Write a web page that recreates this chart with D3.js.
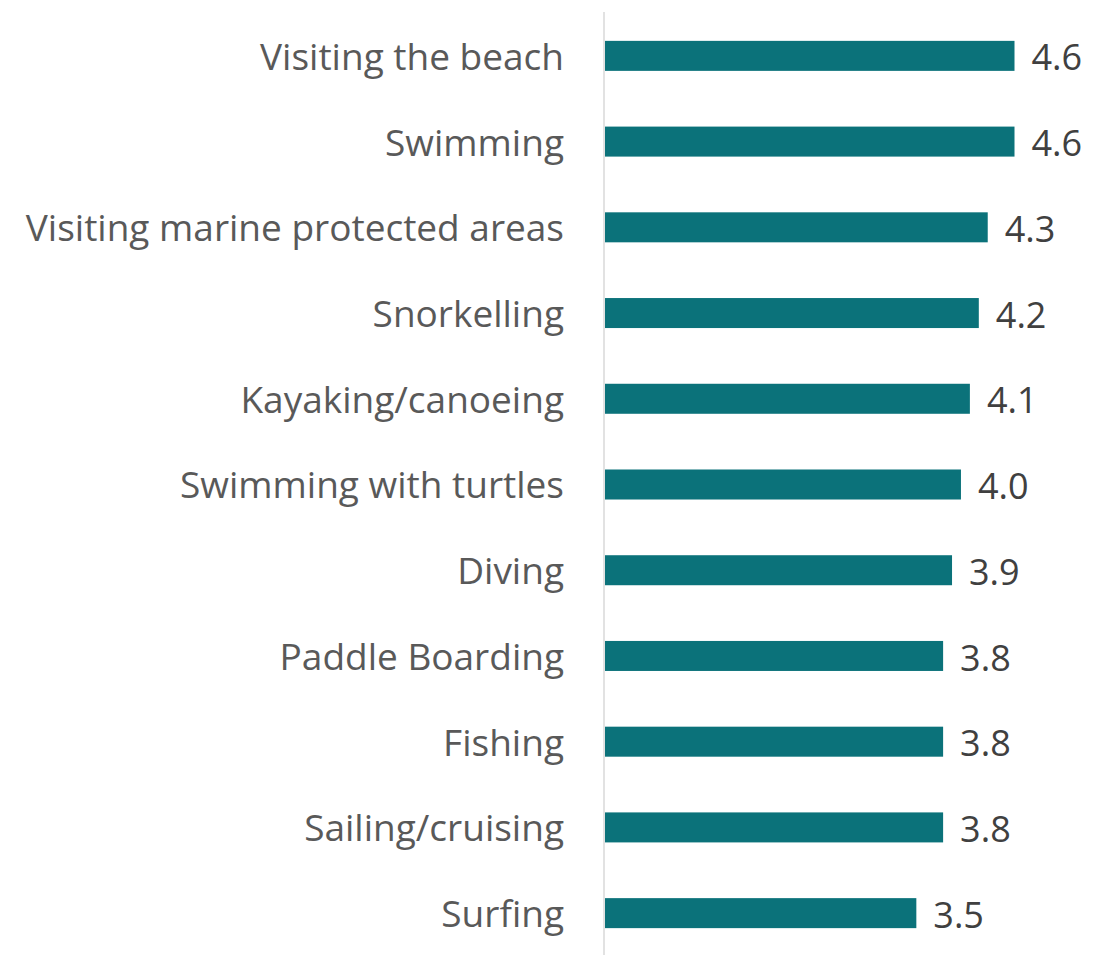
<!DOCTYPE html>
<html>
<head>
<meta charset="utf-8">
<script src="https://cdn.jsdelivr.net/npm/d3@7"></script>
<style>
  html, body { margin: 0; padding: 0; background: #fff; }
  svg text { font-family: "Open Sans", Lato, sans-serif; }
</style>
</head>
<body>
<svg id="chart" width="1115" height="955"></svg>
<script>
// Mean rating by marine activity
const activities = [
  "Visiting the beach",
  "Swimming",
  "Visiting marine protected areas",
  "Snorkelling",
  "Kayaking/canoeing",
  "Swimming with turtles",
  "Diving",
  "Paddle Boarding",
  "Fishing",
  "Sailing/cruising",
  "Surfing"
];
const ratings = [4.6, 4.6, 4.3, 4.2, 4.1, 4.0, 3.9, 3.8, 3.8, 3.8, 3.5];

const svg = d3.select("#chart");
const axisX = 604, plotTop = 13, plotBottom = 956;

const x = d3.scaleLinear().domain([0, 4.6]).range([axisX, 1014.5]);
const y = d3.scaleBand().domain(activities).range([plotTop, plotBottom]).paddingInner(0.65).paddingOuter(0.325);

// category axis line
svg.append("line")
  .attr("x1", axisX).attr("x2", axisX)
  .attr("y1", 12).attr("y2", 955)
  .attr("stroke", "#d9d9d9").attr("stroke-width", 1.5);

const rows = activities.map((a, i) => ({ name: a, value: ratings[i] }));

svg.selectAll("rect.bar").data(rows).join("rect")
  .attr("class", "bar")
  .attr("x", x(0) + 1)
  .attr("y", d => y(d.name))
  .attr("width", d => x(d.value) - x(0) - 1)
  .attr("height", y.bandwidth())
  .attr("fill", "#0b727a");

svg.selectAll("text.cat").data(rows).join("text")
  .attr("class", "cat")
  .attr("x", axisX - 40)
  .attr("y", d => y(d.name) + y.bandwidth() / 2 + 1)
  .attr("dy", "0.35em")
  .attr("text-anchor", "end")
  .attr("font-size", 37)
  .attr("fill", "#595959")
  .text(d => d.name);

svg.selectAll("text.val").data(rows).join("text")
  .attr("class", "val")
  .attr("x", d => x(d.value) + 17)
  .attr("y", d => y(d.name) + y.bandwidth() / 2 + 2)
  .attr("dy", "0.35em")
  .attr("font-size", 36)
  .attr("fill", "#404040")
  .text(d => d3.format(".1f")(d.value));
</script>
</body>
</html>
